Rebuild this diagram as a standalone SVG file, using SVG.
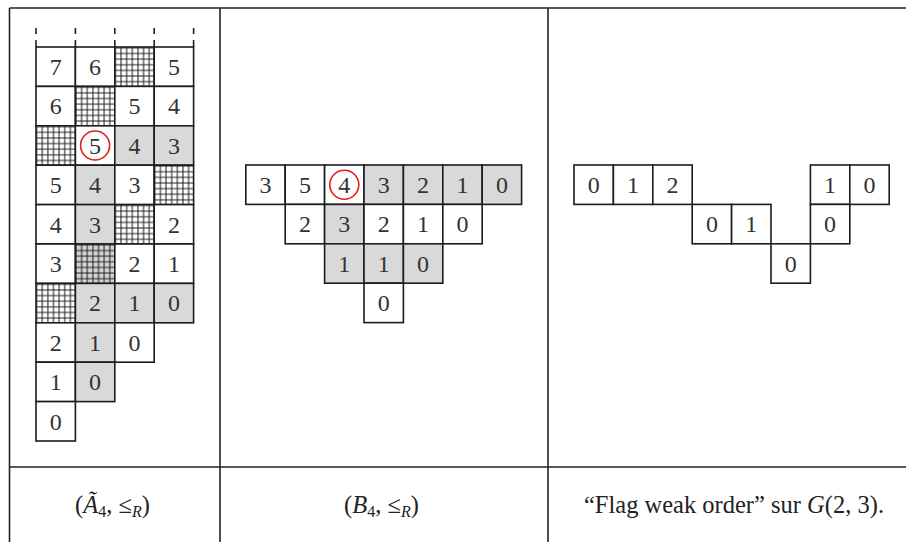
<svg xmlns="http://www.w3.org/2000/svg" width="906" height="542" viewBox="0 0 906 542">
<defs>
<pattern id="hw" width="5.63" height="5.63" patternUnits="userSpaceOnUse"><rect width="5.63" height="5.63" fill="#fff"/><path d="M0 2.8H5.63M2.8 0V5.63" stroke="#1c1c1c" stroke-width="1"/></pattern>
<pattern id="hg" width="5.63" height="5.63" patternUnits="userSpaceOnUse"><rect width="5.63" height="5.63" fill="#d4d4d4"/><path d="M0 2.8H5.63M2.8 0V5.63" stroke="#1c1c1c" stroke-width="1"/></pattern>
</defs>
<style>
.w{fill:#fff;stroke:#1c1c1c;stroke-width:1.6}
.g{fill:#d9d9d9;stroke:#1c1c1c;stroke-width:1.6}
.h{fill:url(#hw);stroke:#1c1c1c;stroke-width:1.6}
.hg{fill:url(#hg);stroke:#1c1c1c;stroke-width:1.6}
.t{font-family:"Liberation Serif","DejaVu Serif",serif;font-size:24px;text-anchor:middle;fill:#333}
.cap{font-family:"Liberation Serif","DejaVu Serif",serif;font-size:24.5px;text-anchor:middle;fill:#222}
.rc{fill:none;stroke:#e0201c;stroke-width:1.6}
.tb{stroke:#222;stroke-width:1.6;fill:none}
</style>
<rect width="906" height="542" fill="#fff"/>
<g id="table" class="tb">
<path d="M9.5 8H906M9.5 8V542M220 8V542M548 8V542M9.5 467H906"/>
</g>
<g id="panelA">
<g id="dashes" class="tb">
<path d="M36 28V34M75.4 28V34M114.8 28V34M154.2 28V34M193.6 28V34M36 40V47M75.4 40V47M114.8 40V47M154.2 40V47M193.6 40V47"/>
</g>
<g id="a-r0">
<rect class="w" x="36" y="47" width="39.4" height="39.4"/><rect class="w" x="75.4" y="47" width="39.4" height="39.4"/><rect class="h" x="114.8" y="47" width="39.4" height="39.4"/><rect class="w" x="154.2" y="47" width="39.4" height="39.4"/>
<text class="t" x="55.7" y="75">7</text><text class="t" x="95.1" y="75">6</text><text class="t" x="173.9" y="75">5</text>
</g>
<g id="a-r1">
<rect class="w" x="36" y="86.4" width="39.4" height="39.4"/><rect class="h" x="75.4" y="86.4" width="39.4" height="39.4"/><rect class="w" x="114.8" y="86.4" width="39.4" height="39.4"/><rect class="w" x="154.2" y="86.4" width="39.4" height="39.4"/>
<text class="t" x="55.7" y="114.4">6</text><text class="t" x="134.5" y="114.4">5</text><text class="t" x="173.9" y="114.4">4</text>
</g>
<g id="a-r2">
<rect class="h" x="36" y="125.8" width="39.4" height="39.4"/><rect class="w" x="75.4" y="125.8" width="39.4" height="39.4"/><rect class="g" x="114.8" y="125.8" width="39.4" height="39.4"/><rect class="g" x="154.2" y="125.8" width="39.4" height="39.4"/>
<text class="t" x="95.1" y="153.8">5</text><text class="t" x="134.5" y="153.8">4</text><text class="t" x="173.9" y="153.8">3</text>
<circle class="rc" cx="95.1" cy="145.5" r="14.5"/>
</g>
<g id="a-r3">
<rect class="w" x="36" y="165.2" width="39.4" height="39.4"/><rect class="g" x="75.4" y="165.2" width="39.4" height="39.4"/><rect class="w" x="114.8" y="165.2" width="39.4" height="39.4"/><rect class="h" x="154.2" y="165.2" width="39.4" height="39.4"/>
<text class="t" x="55.7" y="193.2">5</text><text class="t" x="95.1" y="193.2">4</text><text class="t" x="134.5" y="193.2">3</text>
</g>
<g id="a-r4">
<rect class="w" x="36" y="204.6" width="39.4" height="39.4"/><rect class="g" x="75.4" y="204.6" width="39.4" height="39.4"/><rect class="h" x="114.8" y="204.6" width="39.4" height="39.4"/><rect class="w" x="154.2" y="204.6" width="39.4" height="39.4"/>
<text class="t" x="55.7" y="232.6">4</text><text class="t" x="95.1" y="232.6">3</text><text class="t" x="173.9" y="232.6">2</text>
</g>
<g id="a-r5">
<rect class="w" x="36" y="244" width="39.4" height="39.4"/><rect class="hg" x="75.4" y="244" width="39.4" height="39.4"/><rect class="w" x="114.8" y="244" width="39.4" height="39.4"/><rect class="w" x="154.2" y="244" width="39.4" height="39.4"/>
<text class="t" x="55.7" y="272">3</text><text class="t" x="134.5" y="272">2</text><text class="t" x="173.9" y="272">1</text>
</g>
<g id="a-r6">
<rect class="h" x="36" y="283.4" width="39.4" height="39.4"/><rect class="g" x="75.4" y="283.4" width="39.4" height="39.4"/><rect class="g" x="114.8" y="283.4" width="39.4" height="39.4"/><rect class="g" x="154.2" y="283.4" width="39.4" height="39.4"/>
<text class="t" x="95.1" y="311.4">2</text><text class="t" x="134.5" y="311.4">1</text><text class="t" x="173.9" y="311.4">0</text>
</g>
<g id="a-r7">
<rect class="w" x="36" y="322.8" width="39.4" height="39.4"/><rect class="g" x="75.4" y="322.8" width="39.4" height="39.4"/><rect class="w" x="114.8" y="322.8" width="39.4" height="39.4"/>
<text class="t" x="55.7" y="350.8">2</text><text class="t" x="95.1" y="350.8">1</text><text class="t" x="134.5" y="350.8">0</text>
</g>
<g id="a-r8">
<rect class="w" x="36" y="362.2" width="39.4" height="39.4"/><rect class="g" x="75.4" y="362.2" width="39.4" height="39.4"/>
<text class="t" x="55.7" y="390.2">1</text><text class="t" x="95.1" y="390.2">0</text>
</g>
<g id="a-r9">
<rect class="w" x="36" y="401.6" width="39.4" height="39.4"/>
<text class="t" x="55.7" y="429.6">0</text>
</g>
</g>
<g id="panelB">
<g id="b-r0">
<rect class="w" x="245.8" y="165" width="39.4" height="39.4"/><rect class="w" x="285.2" y="165" width="39.4" height="39.4"/><rect class="w" x="324.6" y="165" width="39.4" height="39.4"/><rect class="g" x="364" y="165" width="39.4" height="39.4"/><rect class="g" x="403.4" y="165" width="39.4" height="39.4"/><rect class="g" x="442.8" y="165" width="39.4" height="39.4"/><rect class="g" x="482.2" y="165" width="39.4" height="39.4"/>
<text class="t" x="265.5" y="193">3</text><text class="t" x="304.9" y="193">5</text><text class="t" x="344.3" y="193">4</text><text class="t" x="383.7" y="193">3</text><text class="t" x="423.1" y="193">2</text><text class="t" x="462.5" y="193">1</text><text class="t" x="501.9" y="193">0</text>
<circle class="rc" cx="344.3" cy="184.7" r="14.5"/>
</g>
<g id="b-r1">
<rect class="w" x="285.2" y="204.4" width="39.4" height="39.4"/><rect class="g" x="324.6" y="204.4" width="39.4" height="39.4"/><rect class="w" x="364" y="204.4" width="39.4" height="39.4"/><rect class="w" x="403.4" y="204.4" width="39.4" height="39.4"/><rect class="w" x="442.8" y="204.4" width="39.4" height="39.4"/>
<text class="t" x="304.9" y="232.4">2</text><text class="t" x="344.3" y="232.4">3</text><text class="t" x="383.7" y="232.4">2</text><text class="t" x="423.1" y="232.4">1</text><text class="t" x="462.5" y="232.4">0</text>
</g>
<g id="b-r2">
<rect class="g" x="324.6" y="243.8" width="39.4" height="39.4"/><rect class="g" x="364" y="243.8" width="39.4" height="39.4"/><rect class="g" x="403.4" y="243.8" width="39.4" height="39.4"/>
<text class="t" x="344.3" y="271.8">1</text><text class="t" x="383.7" y="271.8">1</text><text class="t" x="423.1" y="271.8">0</text>
</g>
<g id="b-r3">
<rect class="w" x="364" y="283.2" width="39.4" height="39.4"/>
<text class="t" x="383.7" y="311.2">0</text>
</g>
</g>
<g id="panelC">
<g id="c-r0">
<rect class="w" x="574" y="165" width="39.4" height="39.4"/><rect class="w" x="613.4" y="165" width="39.4" height="39.4"/><rect class="w" x="652.8" y="165" width="39.4" height="39.4"/><rect class="w" x="810.4" y="165" width="39.4" height="39.4"/><rect class="w" x="849.8" y="165" width="39.4" height="39.4"/>
<text class="t" x="593.7" y="193">0</text><text class="t" x="633.1" y="193">1</text><text class="t" x="672.5" y="193">2</text><text class="t" x="830.1" y="193">1</text><text class="t" x="869.5" y="193">0</text>
</g>
<g id="c-r1">
<rect class="w" x="692.2" y="204.4" width="39.4" height="39.4"/><rect class="w" x="731.6" y="204.4" width="39.4" height="39.4"/><rect class="w" x="810.4" y="204.4" width="39.4" height="39.4"/>
<text class="t" x="711.9" y="232.4">0</text><text class="t" x="751.3" y="232.4">1</text><text class="t" x="830.1" y="232.4">0</text>
</g>
<g id="c-r2">
<rect class="w" x="771" y="243.8" width="39.4" height="39.4"/>
<text class="t" x="790.7" y="271.8">0</text>
</g>
</g>
<g id="captions">
<text class="cap" x="112.5" y="513">(<tspan font-style="italic">Ã</tspan><tspan font-size="16" dy="4">4</tspan><tspan dy="-4">, ≤</tspan><tspan font-style="italic" font-size="16" dy="4">R</tspan><tspan dy="-4">)</tspan></text>
<text class="cap" x="381.5" y="513">(<tspan font-style="italic">B</tspan><tspan font-size="16" dy="4">4</tspan><tspan dy="-4">, ≤</tspan><tspan font-style="italic" font-size="16" dy="4">R</tspan><tspan dy="-4">)</tspan></text>
<text class="cap" x="734" y="513">“Flag weak order” sur <tspan font-style="italic">G</tspan>(2, 3).</text>
</g>
</svg>
